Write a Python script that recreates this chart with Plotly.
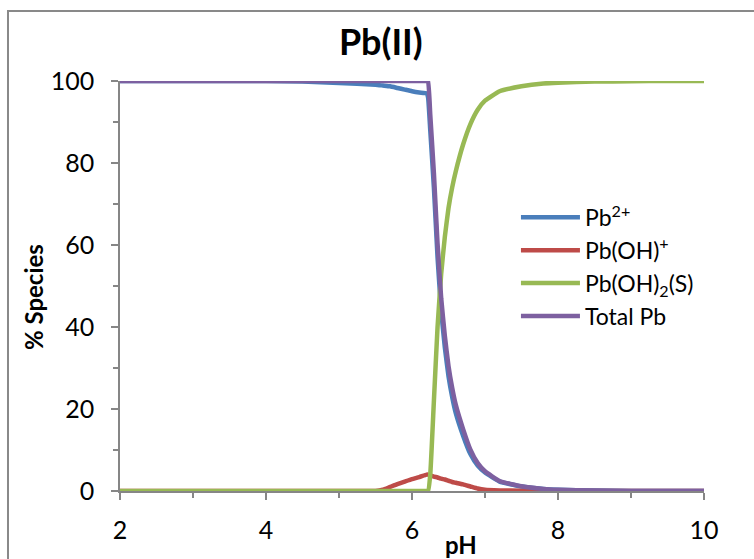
import plotly.graph_objects as go

# pH grid shared by all species curves
ph = [2, 3, 4, 4.5, 5, 5.5, 5.6, 5.7, 5.8, 5.9, 6.0, 6.1, 6.2, 6.22, 6.25, 6.3, 6.35,
      6.4, 6.45, 6.5, 6.55, 6.6, 6.7, 6.8, 6.9, 7.0, 7.2, 7.5, 7.8, 8.0, 8.5, 9.0, 9.5, 10]

# % of total lead present as each species
pb_free = [100, 100, 100, 99.9, 99.5, 99.1, 98.9, 98.7, 98.3, 97.9, 97.5, 97.2, 97.0, 96.0,
           88.0, 74.0, 57.0, 44.0, 35.0, 28.0, 23.0, 19.0, 13.5, 9.0, 6.2, 4.5, 2.3, 1.1,
           0.5, 0.3, 0.1, 0.03, 0.0, 0.0]
pb_oh = [0, 0, 0, 0, 0, 0, 0.3, 1.0, 1.7, 2.3, 2.9, 3.4, 4.0, 4.0, 3.8, 3.5, 3.3,
         3.0, 2.8, 2.5, 2.2, 2.0, 1.6, 1.1, 0.6, 0.3, 0.15, 0.05, 0, 0, 0, 0, 0, 0]
pb_oh2_s = [0, 0, 0, 0, 0, 0, 0, 0, 0, 0, 0, 0, 0, 0, 4.0, 22.0, 40.0, 53.0, 62.0, 69.0,
            74.0, 78.0, 84.5, 89.5, 93.0, 95.2, 97.5, 98.7, 99.4, 99.6, 99.85, 99.95, 100, 100]
pb_total = [100, 100, 100, 100, 100, 100, 100, 100, 100, 100, 100, 100, 100, 100,
            91.8, 77.5, 60.3, 47.0, 37.8, 30.5, 25.2, 21.0, 15.1, 10.1, 6.8, 4.8, 2.45, 1.15,
            0.5, 0.3, 0.1, 0.03, 0.0, 0.0]

series = [
    ("Pb<sup>2+</sup>", pb_free, "#4A7EBB"),
    ("Pb(OH)<sup>+</sup>", pb_oh, "#BE4B48"),
    ("Pb(OH)<sub>2</sub>(S)", pb_oh2_s, "#98B954"),
    ("Total Pb", pb_total, "#7D60A0"),
]

font_family = "Lato, 'Open Sans', sans-serif"

fig = go.Figure()
for name, vals, color in series:
    fig.add_trace(go.Scatter(
        x=ph, y=vals, name=name, mode="lines",
        line=dict(color=color, width=4.5, shape="spline", smoothing=0.4),
        cliponaxis=False,
    ))

axis_common = dict(
    showgrid=False, zeroline=False,
    showline=True, linecolor="#868686", linewidth=1.5,
    ticks="outside", ticklen=7, tickcolor="#868686", tickwidth=1.5,
    tickfont=dict(family=font_family, size=25, color="#000000"),
)

fig.update_xaxes(
    range=[2, 10], tickvals=[2, 4, 6, 8, 10],
    minor=dict(dtick=1, ticks="outside", ticklen=5, tickcolor="#868686", tickwidth=1.5),
    ticklabelstandoff=9,
    **axis_common,
)
fig.update_yaxes(
    range=[0, 100], tickvals=[0, 20, 40, 60, 80, 100],
    minor=dict(dtick=10, ticks="outside", ticklen=5, tickcolor="#868686", tickwidth=1.5),
    ticklabelstandoff=12,
    **axis_common,
)

fig.update_layout(
    width=754, height=559,
    margin=dict(l=120, r=50, t=81, b=68),
    paper_bgcolor="#FFFFFF", plot_bgcolor="#FFFFFF",
    title=dict(text="<b>Pb(II)</b>", x=0.505, xanchor="center", y=0.925, yanchor="middle",
               font=dict(family=font_family, size=36, color="#000000")),
    showlegend=True,
    legend=dict(x=0.678, y=0.72, xanchor="left", yanchor="top",
                font=dict(family=font_family, size=23, color="#000000"),
                bgcolor="rgba(0,0,0,0)", itemwidth=59),
    annotations=[
        dict(text="<b>pH</b>", x=0.584, y=-0.13, xref="paper", yref="paper",
             showarrow=False, yanchor="middle",
             font=dict(family=font_family, size=24, color="#000000")),
        dict(text="<b>% Species</b>", x=-0.149, y=0.473, xref="paper", yref="paper",
             showarrow=False, textangle=-90, xanchor="center", yanchor="middle",
             font=dict(family=font_family, size=24, color="#000000")),
    ],
    shapes=[dict(type="rect", xref="paper", yref="paper",
                 x0=-0.1918, x1=1.3, y0=-0.4, y1=1.1707,
                 line=dict(color="#898989", width=2), fillcolor="rgba(0,0,0,0)", layer="below")],
)

fig.write_html("out.html")
